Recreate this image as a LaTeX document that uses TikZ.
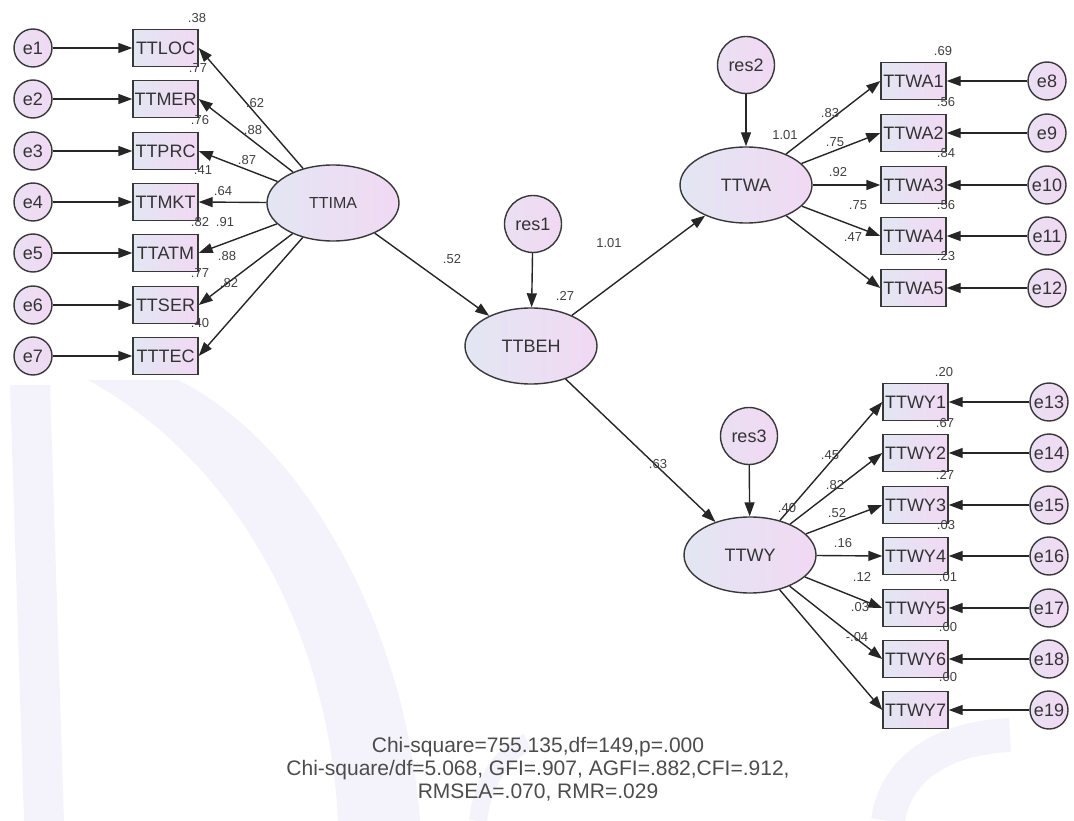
\documentclass[tikz,border=0pt]{standalone}
\usepackage{fontspec}
\setmainfont{Liberation Sans}
\usetikzlibrary{shapes.geometric,arrows.meta}
\definecolor{edge}{HTML}{383838}
\definecolor{fillL}{HTML}{E3E6F3}
\definecolor{fillR}{HTML}{F1D9F3}
\definecolor{wm}{HTML}{F4F2FA}

\tikzset{
  every node/.style={font=\fontsize{18}{20}\selectfont, text=black!80},
  obs/.style={draw=edge, line width=1.4pt, left color=fillL, right color=fillR,
    minimum width=65pt, minimum height=37pt, inner sep=0pt},
  lat/.style={ellipse, draw=edge, line width=1.4pt, left color=fillL, right color=fillR,
    minimum width=132pt, minimum height=76pt, inner sep=0pt},
  err/.style={circle, draw=edge, line width=1.4pt, left color=fillL!50!fillR, right color=fillR,
    minimum size=38pt, inner sep=0pt},
  resid/.style={err, minimum size=57pt},
  link/.style={draw=black!85, line width=1.4pt, -{Triangle[length=14pt,width=10pt]}},
  est/.style={font=\fontsize{13}{15}\selectfont, text=black!75, inner sep=0pt},
  fit/.style={font=\fontsize{21}{23}\selectfont, text=black!70, align=center},
}

\begin{document}
\begin{tikzpicture}[x=1pt, y=-1pt]
\useasboundingbox (0,0) rectangle (1074,821);

% faint background lettering
\fill[wm] (88,380) .. controls (250,470) and (330,650) .. (338,821)
  -- (420,821) .. controls (405,620) and (300,440) .. (178,380) -- cycle;
\fill[wm] (10,385) -- (50,385) -- (64,821) -- (24,821) -- cycle;
\draw[wm, line width=34pt] (888,821) .. controls (895,770) and (940,738) .. (1010,735);
\draw[wm, line width=18pt] (478,821) .. controls (482,785) and (500,755) .. (528,742);

% latent variables
\node[lat, font=\fontsize{16}{18}\selectfont] (IMA) at (333,203) {TTIMA};
\node[lat] (BEH) at (531,346) {TTBEH};
\node[lat] (WA)  at (746,185) {TTWA};
\node[lat] (WY)  at (750,555) {TTWY};

% structural residuals
\node[resid] (res1) at (533,224) {res1};
\node[resid] (res2) at (746,65)  {res2};
\node[resid] (res3) at (749,436) {res3};

% indicators of TTIMA
\node[obs] (LOC) at (165.5,48)  {TTLOC};
\node[obs] (MER) at (165.5,99)  {TTMER};
\node[obs] (PRC) at (165.5,151) {TTPRC};
\node[obs] (MKT) at (165.5,202) {TTMKT};
\node[obs] (ATM) at (165.5,253) {TTATM};
\node[obs] (SER) at (165.5,305) {TTSER};
\node[obs] (TEC) at (165.5,356) {TTTEC};

\foreach \i/\y in {1/48,2/99,3/151,4/202,5/253,6/305,7/356}
  \node[err] (e\i) at (33,\y) {e\i};

% indicators of TTWA
\node[obs] (WA1) at (913.5,81)  {TTWA1};
\node[obs] (WA2) at (913.5,133) {TTWA2};
\node[obs] (WA3) at (913.5,185) {TTWA3};
\node[obs] (WA4) at (913.5,236) {TTWA4};
\node[obs] (WA5) at (913.5,288) {TTWA5};

\foreach \i/\y in {8/81,9/133,10/185,11/236,12/288}
  \node[err] (e\i) at (1047,\y) {e\i};

% indicators of TTWY
\node[obs] (WY1) at (915.5,402) {TTWY1};
\node[obs] (WY2) at (915.5,453) {TTWY2};
\node[obs] (WY3) at (915.5,505) {TTWY3};
\node[obs] (WY4) at (915.5,556) {TTWY4};
\node[obs] (WY5) at (915.5,608) {TTWY5};
\node[obs] (WY6) at (915.5,659) {TTWY6};
\node[obs] (WY7) at (915.5,710) {TTWY7};

\foreach \i/\y in {13/402,14/453,15/505,16/556,17/608,18/659,19/710}
  \node[err] (e\i) at (1049,\y) {e\i};

% measurement errors
\draw[link] (e1) -- (LOC);
\draw[link] (e2) -- (MER);
\draw[link] (e3) -- (PRC);
\draw[link] (e4) -- (MKT);
\draw[link] (e5) -- (ATM);
\draw[link] (e6) -- (SER);
\draw[link] (e7) -- (TEC);
\draw[link] (e8) -- (WA1);
\draw[link] (e9) -- (WA2);
\draw[link] (e10) -- (WA3);
\draw[link] (e11) -- (WA4);
\draw[link] (e12) -- (WA5);
\draw[link] (e13) -- (WY1);
\draw[link] (e14) -- (WY2);
\draw[link] (e15) -- (WY3);
\draw[link] (e16) -- (WY4);
\draw[link] (e17) -- (WY5);
\draw[link] (e18) -- (WY6);
\draw[link] (e19) -- (WY7);

% loadings
\foreach \b in {LOC,MER,PRC,MKT,ATM,SER,TEC}
  \draw[link] (IMA) -- (\b.east);
\foreach \b in {WA1,WA2,WA3,WA4,WA5}
  \draw[link] (WA) -- (\b.west);
\foreach \b in {WY1,WY2,WY3,WY4,WY5,WY6,WY7}
  \draw[link] (WY) -- (\b.west);

% structural paths
\draw[link] (IMA) -- (BEH);
\draw[link] (BEH) -- (WA);
\draw[link] (BEH) -- (WY);
\draw[link] (res1) -- (BEH);
\draw[link] (res2) -- (WA);
\draw[link] (res3) -- (WY);

% squared multiple correlations, TTIMA block
\node[est] (r2LOC) at (197,18)  {.38};
\node[est] (r2MER) at (198,68)  {.77};
\node[est] (r2PRC) at (200,120) {.76};
\node[est] (r2MKT) at (203,170) {.41};
\node[est] (r2ATM) at (200,222) {.82};
\node[est] (r2SER) at (200,273) {.77};
\node[est] (r2TEC) at (200,323) {.40};

% standardized loadings, TTIMA block
\node[est] (lLOC) at (255,103) {.62};
\node[est] (lMER) at (253,130) {.88};
\node[est] (lPRC) at (247,160) {.87};
\node[est] (lMKT) at (223,191) {.64};
\node[est] (lATM) at (225,222) {.91};
\node[est] (lSER) at (227,256) {.88};
\node[est] (lTEC) at (229,283) {.82};

% structural estimates
\node[est] (bIB)  at (452,259) {.52};
\node[est] (r2BEH) at (565,296) {.27};
\node[est] (bBA)  at (609,243) {1.01};
\node[est] (bBY)  at (658,464) {.63};
\node[est] (r2WA) at (785,135) {1.01};
\node[est] (r2WY) at (787,508) {.40};

% TTWA block
\node[est] (lWA1) at (830,113) {.83};
\node[est] (lWA2) at (835,142) {.75};
\node[est] (lWA3) at (838,172) {.92};
\node[est] (lWA4) at (858,205) {.75};
\node[est] (lWA5) at (853,237) {.47};
\node[est] (r2WA1) at (943,51)  {.69};
\node[est] (r2WA2) at (946,102) {.56};
\node[est] (r2WA3) at (946,153) {.84};
\node[est] (r2WA4) at (946,205) {.56};
\node[est] (r2WA5) at (946,256) {.23};

% TTWY block
\node[est] (lWY1) at (830,455) {.45};
\node[est] (lWY2) at (835,485) {.82};
\node[est] (lWY3) at (837,513) {.52};
\node[est] (lWY4) at (843,543) {.16};
\node[est] (lWY5) at (862,577) {.12};
\node[est] (lWY6) at (860,607) {.03};
\node[est] (lWY7) at (857,637) {-.04};
\node[est] (r2WY1) at (944,372) {.20};
\node[est] (r2WY2) at (945,423) {.67};
\node[est] (r2WY3) at (945,475) {.27};
\node[est] (r2WY4) at (946,525) {.03};
\node[est] (r2WY5) at (948,577) {.01};
\node[est] (r2WY6) at (948,627) {.00};
\node[est] (r2WY7) at (948,677) {.00};

% fit indices
\node[fit] (fitstats) at (538,769)
  {Chi-square=755.135,df=149,p=.000\\
   Chi-square/df=5.068, GFI=.907, AGFI=.882,CFI=.912,\\
   RMSEA=.070, RMR=.029};
\end{tikzpicture}
\end{document}
